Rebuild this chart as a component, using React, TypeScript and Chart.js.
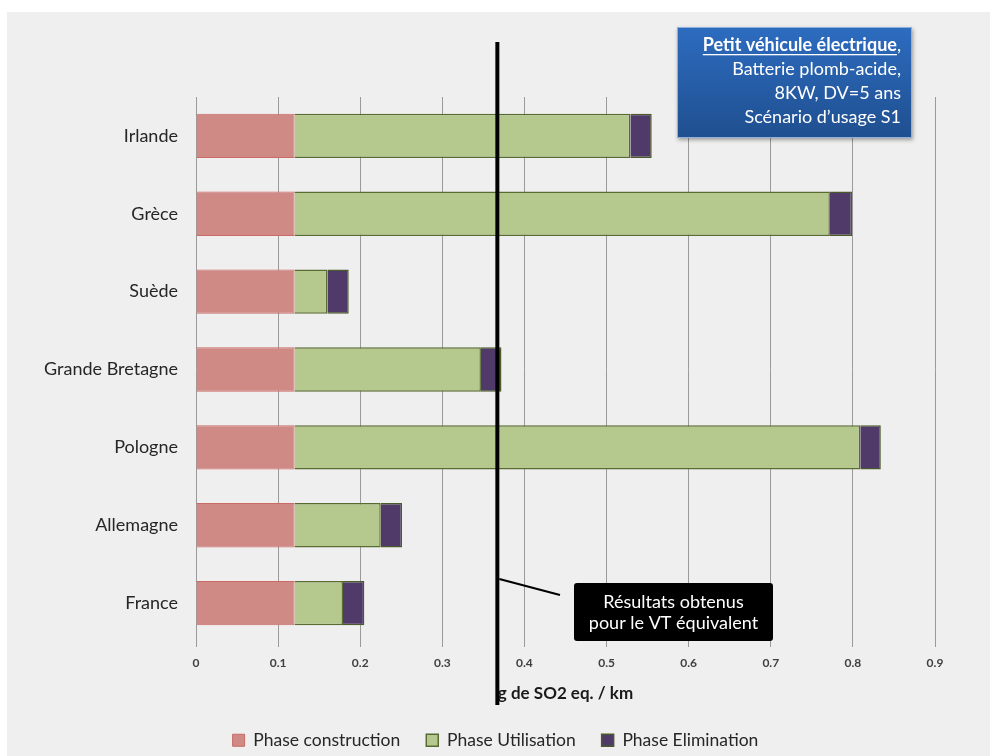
import React, { useEffect, useRef } from "react";
import { Chart, registerables } from "chart.js";
Chart.register(...registerables);

const countries = ["Irlande", "Grèce", "Suède", "Grande Bretagne", "Pologne", "Allemagne", "France"];
const construction = [0.12, 0.12, 0.12, 0.12, 0.12, 0.12, 0.12];
const utilisation = [0.409, 0.652, 0.04, 0.227, 0.689, 0.105, 0.059];
const elimination = [0.026, 0.027, 0.026, 0.025, 0.025, 0.026, 0.026];
const xTickLabels = ["0", "0.1", "0.2", "0.3", "0.4", "0.5", "0.6", "0.7", "0.8", "0.9"];
const seriesNames = ["Phase construction", "Phase Utilisation", "Phase Elimination"];
const vtValue = 0.367;
const axisTitle = "g de SO2 eq. / km";
const infoTitle = "Petit véhicule électrique";
const infoLines = ["Batterie plomb-acide,", "8KW, DV=5 ans", "Scénario d’usage S1"];
const noteLines = ["Résultats obtenus", "pour le VT équivalent"];

const FONT = "Lato, 'Open Sans', sans-serif";

const legendShiftPlugin = {
  id: "legendShift",
  afterLayout(chart: any) {
    const lg = chart.legend;
    if (lg) {
      lg.left += 28;
      lg.right += 28;
    }
  },
};

const decorPlugin = {
  id: "decor",
  beforeDraw(chart: any) {
    const ctx = chart.ctx;
    ctx.save();
    ctx.fillStyle = "#ffffff";
    ctx.fillRect(0, 0, chart.width, chart.height);
    ctx.fillStyle = "#efefef";
    ctx.fillRect(7, 12, chart.width - 7, chart.height - 12);
    ctx.restore();
  },
  afterDraw(chart: any) {
    const ctx = chart.ctx;
    const xs = chart.scales.x;
    const vx = xs.getPixelForValue(vtValue);
    ctx.save();
    // vertical VT line
    ctx.strokeStyle = "#000";
    ctx.lineWidth = 4;
    ctx.beginPath();
    ctx.moveTo(vx, 42);
    ctx.lineTo(vx, 705);
    ctx.stroke();
    // connector line
    ctx.lineWidth = 2;
    ctx.beginPath();
    ctx.moveTo(vx + 2, 579);
    ctx.lineTo(560, 595);
    ctx.stroke();
    // note box
    const nx = 574, ny = 583, nw = 199, nh = 58;
    ctx.fillStyle = "#000";
    ctx.beginPath();
    (ctx as any).roundRect ? ctx.roundRect(nx, ny, nw, nh, 3) : ctx.rect(nx, ny, nw, nh);
    ctx.fill();
    ctx.fillStyle = "#ffffff";
    ctx.font = "18px " + FONT;
    ctx.textAlign = "center";
    ctx.textBaseline = "middle";
    ctx.fillText(noteLines[0], nx + nw / 2, 602);
    ctx.fillText(noteLines[1], nx + nw / 2, 623);

    // info box
    const bx = 677, by = 27, bw = 235, bh = 111;
    ctx.save();
    ctx.shadowColor = "rgba(0,0,0,0.35)";
    ctx.shadowBlur = 4;
    ctx.shadowOffsetX = 1;
    ctx.shadowOffsetY = 2;
    const g = ctx.createLinearGradient(0, by, 0, by + bh);
    g.addColorStop(0, "#2d6cc0");
    g.addColorStop(1, "#1f4f8f");
    ctx.fillStyle = g;
    ctx.fillRect(bx, by, bw, bh);
    ctx.restore();
    ctx.strokeStyle = "#8fb0dc";
    ctx.lineWidth = 1;
    ctx.strokeRect(bx + 0.5, by + 0.5, bw - 1, bh - 1);

    const rx = 901;
    ctx.fillStyle = "#ffffff";
    ctx.textAlign = "right";
    ctx.textBaseline = "middle";
    ctx.font = "18px " + FONT;
    const commaW = ctx.measureText(",").width;
    ctx.fillText(",", rx, 45);
    ctx.font = "bold 18px " + FONT;
    const tw = ctx.measureText(infoTitle).width;
    ctx.fillText(infoTitle, rx - commaW, 45);
    ctx.fillRect(rx - commaW - tw, 54, tw, 1.3);
    ctx.font = "18px " + FONT;
    ctx.fillText(infoLines[0], rx, 69);
    ctx.fillText(infoLines[1], rx, 93);
    ctx.fillText(infoLines[2], rx, 117);
    ctx.restore();
  },
};

export default function App() {
  const ref = useRef<HTMLCanvasElement | null>(null);
  useEffect(() => {
    if (!ref.current) return;
    const chart = new Chart(ref.current, {
      type: "bar",
      data: {
        labels: countries,
        datasets: [
          {
            label: seriesNames[0],
            data: construction,
            backgroundColor: "#d08a86",
            borderColor: "#c96a66",
            borderWidth: 1,
          },
          {
            label: seriesNames[1],
            data: utilisation,
            backgroundColor: "#b5c98f",
            borderColor: "#5a6b32",
            borderWidth: 1.5,
          },
          {
            label: seriesNames[2],
            data: elimination,
            backgroundColor: "#4f3a6a",
            borderColor: "#4a5a2a",
            borderWidth: 1.5,
          },
        ],
      },
      options: {
        indexAxis: "y",
        animation: false,
        responsive: false,
        maintainAspectRatio: false,
        layout: { padding: { left: 0, top: 97, right: 55, bottom: -3 } },
        datasets: { bar: { categoryPercentage: 1, barPercentage: 0.57 } },
        scales: {
          x: {
            stacked: true,
            min: 0,
            max: 0.9,
            ticks: {
              stepSize: 0.1,
              color: "#404040",
              font: { family: FONT, size: 12, weight: "bold" },
              padding: 9,
              callback: (_v: any, i: number) => xTickLabels[i],
            },
            grid: { color: "#9a9a9a", lineWidth: 1, tickLength: 5 },
            border: { display: false },
            title: {
              display: true,
              text: axisTitle,
              color: "#1a1a1a",
              font: { family: FONT, size: 17, weight: "bold" },
              padding: { top: 4, bottom: 2 },
            },
            afterFit: (s: any) => {
              s.height = 63.5;
            },
          },
          y: {
            stacked: true,
            grid: { display: false },
            border: { display: false },
            ticks: {
              color: "#262626",
              font: { family: FONT, size: 18 },
              padding: 10,
            },
            afterFit: (s: any) => {
              s.width = 196;
            },
          },
        },
        plugins: {
          legend: {
            position: "bottom",
            labels: {
              color: "#262626",
              font: { family: FONT, size: 17.5, lineHeight: 1 },
              boxWidth: 12,
              boxHeight: 12,
              padding: 26,
            },
          },
          tooltip: { enabled: false },
        },
      },
      plugins: [legendShiftPlugin, decorPlugin],
    } as any);
    return () => chart.destroy();
  }, []);
  return (
    <div style={{ position: "fixed", left: 0, top: 0, width: 990, height: 756 }}>
      <canvas ref={ref} width={990} height={756} style={{ width: 990, height: 756 }} />
    </div>
  );
}
